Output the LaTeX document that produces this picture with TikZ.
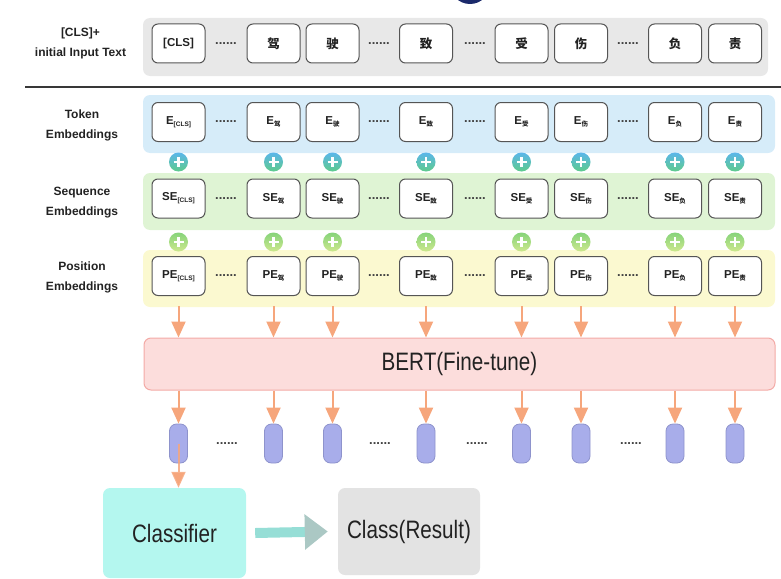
\documentclass[tikz,border=0pt]{standalone}
\usepackage{graphicx}
\usepackage{fontspec}
\setmainfont{Liberation Sans}
\newfontfamily\cjk{Noto Sans CJK SC}
\usetikzlibrary{arrows.meta}

\definecolor{textdark}{HTML}{222222}
\definecolor{boxline}{HTML}{555555}
\definecolor{bandgray}{HTML}{E8E8E8}
\definecolor{bandblue}{HTML}{D6ECF9}
\definecolor{bandgreen}{HTML}{DFF4D4}
\definecolor{bandyellow}{HTML}{FBF9D0}
\definecolor{plusblue}{HTML}{5BB6EA}
\definecolor{plusgreen}{HTML}{5ECB8C}
\definecolor{pluslime}{HTML}{86D37A}
\definecolor{pluspale}{HTML}{CDE88E}
\definecolor{arroworange}{HTML}{F6A67C}
\definecolor{bertfill}{HTML}{FCDDDC}
\definecolor{bertline}{HTML}{F3AAA6}
\definecolor{capfill}{HTML}{A8ADEA}
\definecolor{capline}{HTML}{8E93CC}
\definecolor{clffill}{HTML}{B4F7EF}
\definecolor{resfill}{HTML}{E3E3E3}
\definecolor{shaftteal}{HTML}{96DED6}
\definecolor{headgray}{HTML}{ABC8C4}
\definecolor{logonavy}{HTML}{1B2A6B}

% Chinese character in a token box, and a small index under a letter
\newcommand{\hz}[1]{{\cjk\bfseries #1}}
\newcommand{\lowidx}[1]{\raisebox{-2.2pt}{\fontsize{6.5}{6.5}\selectfont #1}}

\tikzset{
  tokbox/.style={draw=boxline, fill=white, rounded corners=6pt, line width=1pt,
    minimum width=53pt, minimum height=39pt, inner sep=0pt, text=textdark,
    font=\fontsize{11.5}{12}\selectfont\bfseries},
  rowlabel/.style={align=center, text=textdark, inner sep=0pt,
    font=\fontsize{12}{20}\selectfont\bfseries},
  dotrun/.style={inner sep=0pt, text=textdark!85, font=\fontsize{13}{13}\selectfont\bfseries},
  plusA/.style={circle, minimum size=19pt, inner sep=0pt, top color=plusblue, bottom color=plusgreen},
  plusB/.style={circle, minimum size=19pt, inner sep=0pt, top color=pluslime, bottom color=pluspale},
  plusmark/.style={draw=white, line width=2.6pt},
  oarrow/.style={draw=arroworange, line width=2pt, -{Triangle[width=14pt,length=16pt]}},
  capsule/.style={draw=capline, fill=capfill, rounded corners=7pt, line width=0.8pt,
    minimum width=18pt, minimum height=39pt, inner sep=0pt},
  bigbox/.style={rounded corners=7pt, inner sep=0pt, text=textdark,
    font=\fontsize{24}{26}\selectfont}
}

\begin{document}
\begin{tikzpicture}[x=1pt, y=-1pt]
\useasboundingbox (0,0) rectangle (781,578);
\clip (0,0) rectangle (781,578);

% edge of a round badge above the figure
\fill[logonavy] (470,-16) circle (20);

% background bands
\fill[bandgray, rounded corners=7pt] (143,18) rectangle (768,76);
\draw[line width=1.8pt, black!78] (25,87) -- (781,87);
\fill[bandblue, rounded corners=7pt] (143,95) rectangle (775,153);
\fill[bandgreen, rounded corners=7pt] (143,173) rectangle (775,230);
\fill[bandyellow, rounded corners=7pt] (143,250) rectangle (775,307);

% row labels
\node[rowlabel] (lin) at (80.5,43) {[CLS]+\\initial Input Text};
\node[rowlabel] (ltok) at (82,125) {Token\\Embeddings};
\node[rowlabel] (lseq) at (82,203) {Sequence\\Embeddings};
\node[rowlabel] (lpos) at (82,277) {Position\\Embeddings};

% first column: the [CLS] token
\node[tokbox] (in1) at (178.5,43.5) {[CLS]};
\node[tokbox] (te1) at (178.5,122) {E\lowidx{[CLS]}};
\node[tokbox] (se1) at (178.5,198.5) {SE\lowidx{[CLS]}};
\node[tokbox] (pe1) at (178.5,276) {PE\lowidx{[CLS]}};

% character columns
\foreach \i/\x/\c in {2/273.5/驾,3/332.5/驶,4/426/致,5/521.5/受,6/581/伤,7/675/负,8/735/责} {
  \node[tokbox] (in\i) at (\x,43.5) {\fontsize{12.5}{13}\selectfont\hz{\c}};
  \node[tokbox] (te\i) at (\x,122) {E\lowidx{\hz{\c}}};
  \node[tokbox] (se\i) at (\x,198.5) {SE\lowidx{\hz{\c}}};
  \node[tokbox] (pe\i) at (\x,276) {PE\lowidx{\hz{\c}}};
}

% elided positions
\foreach \k/\x in {1/226,2/379,3/475,4/628} {
  \node[dotrun] (din\k) at (\x,43.5) {......};
  \node[dotrun] (dte\k) at (\x,122) {......};
  \node[dotrun] (dse\k) at (\x,198.5) {......};
  \node[dotrun] (dpe\k) at (\x,276) {......};
}
\foreach \k/\x in {1/227,2/380,3/477,4/631} {
  \node[dotrun] (dcap\k) at (\x,443.5) {......};
}

% BERT encoder
\node[bigbox, draw=bertline, fill=bertfill, line width=1pt,
  minimum width=631pt, minimum height=52pt] (bert) at (459.5,364)
  {\scalebox{0.86}[1.05]{BERT(Fine-tune)}};

% sums, inputs to BERT, and output vectors
\foreach \i/\x in {1/178.5,2/273.5,3/332.5,4/426,5/521.5,6/581,7/675,8/735} {
  \node[plusA] (pa\i) at (\x,162) {};
  \draw[plusmark] ([xshift=-5pt]pa\i.center) -- ([xshift=5pt]pa\i.center);
  \draw[plusmark] ([yshift=-5pt]pa\i.center) -- ([yshift=5pt]pa\i.center);
  \node[plusB] (pb\i) at (\x,242) {};
  \draw[plusmark] ([xshift=-5pt]pb\i.center) -- ([xshift=5pt]pb\i.center);
  \draw[plusmark] ([yshift=-5pt]pb\i.center) -- ([yshift=5pt]pb\i.center);
  \coordinate (q\i) at (\x,306);
  \draw[oarrow] (q\i) -- (q\i |- bert.north);
  \node[capsule] (c\i) at (\x,443.5) {};
  \draw[oarrow] (c\i |- bert.south) -- (c\i.north);
}

% classifier head
\node[bigbox, fill=clffill, minimum width=143pt, minimum height=90pt] (clf) at (174.5,533)
  {\raisebox{-3pt}{\scalebox{0.86}[1.05]{Classifier}}};
\node[bigbox, fill=resfill, minimum width=142pt, minimum height=87pt] (res) at (409,531.5)
  {\raisebox{-4pt}{\scalebox{0.86}[1.05]{Class(Result)}}};

\draw[oarrow, draw opacity=0.85] (c1.center) -- (c1.center |- clf.north);
\draw[line width=10pt, shaftteal, -{Triangle[width=34pt,length=23pt,color=headgray]}]
  ([xshift=9pt]clf.east) -- ([xshift=-10pt]res.west);
\end{tikzpicture}
\end{document}
